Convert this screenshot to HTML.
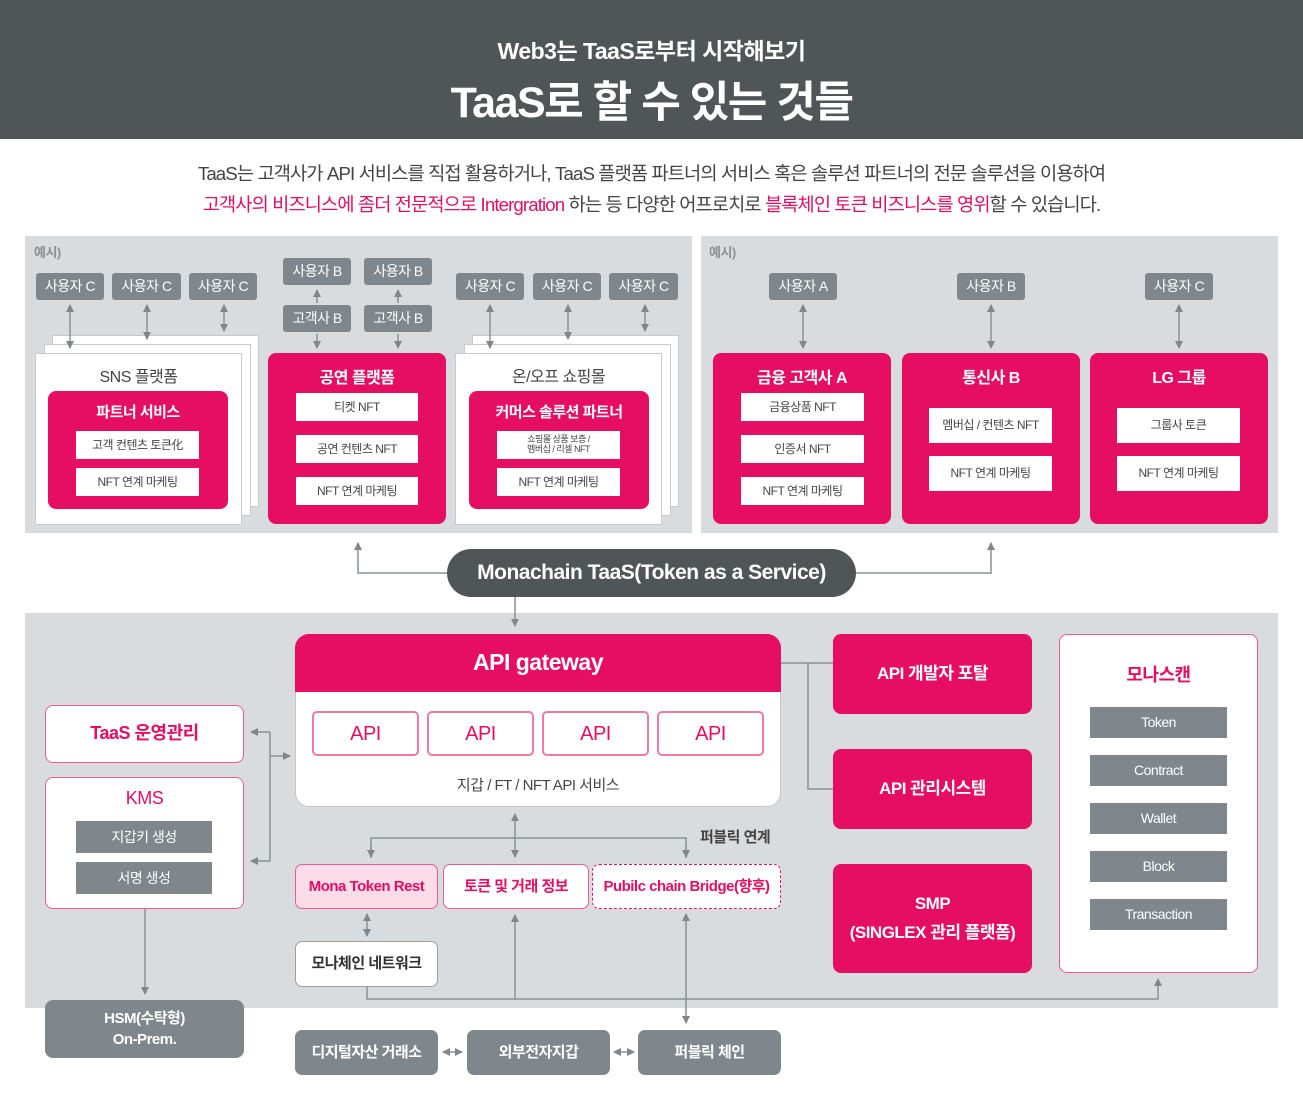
<!DOCTYPE html>
<html><head><meta charset="utf-8">
<style>
body{margin:0;width:1303px;height:1101px;position:relative;background:#fff;font-family:"Liberation Sans","Noto Sans CJK KR",sans-serif;overflow:hidden;letter-spacing:-0.5px}
.b{position:absolute;display:flex;align-items:center;justify-content:center;text-align:center;box-sizing:border-box;line-height:1.2}
.g{background:#7f878c;color:#fff;font-size:14px;border-radius:3px}
.pk{background:#e50e63;border-radius:8px}
.w{background:#fff;color:#444;font-size:12px}
.pg{position:absolute;background:#fff;border:1px solid #c8cbce;box-sizing:border-box}
.t{position:absolute;text-align:center;font-weight:bold}
.panel{position:absolute;background:#d9dcdf}
</style></head><body>
<div style="position:absolute;left:0;top:0;width:1303px;height:139px;background:#505558"></div>
<div class="t" style="left:0;width:1303px;top:32px;font-size:23px;color:#fff">Web3는 TaaS로부터 시작해보기</div>
<div class="t" style="left:0;width:1303px;top:68px;font-size:43px;color:#fff;letter-spacing:-1.5px">TaaS로 할 수 있는 것들</div>
<div style="position:absolute;left:0;width:1303px;top:159px;text-align:center;font-size:18.7px;color:#444;letter-spacing:-0.9px">TaaS는 고객사가 API 서비스를 직접 활용하거나, TaaS 플랫폼 파트너의 서비스 혹은 솔루션 파트너의 전문 솔루션을 이용하여</div>
<div style="position:absolute;left:0;width:1303px;top:190px;text-align:center;font-size:18.7px;color:#444;letter-spacing:-0.9px"><span style="color:#e50e63">고객사의 비즈니스에 좀더 전문적으로 Intergration</span> 하는 등 다양한 어프로치로 <span style="color:#e50e63">블록체인 토큰 비즈니스를 영위</span>할 수 있습니다.</div>

<div class="panel" style="left:25px;top:236px;width:667px;height:297px"></div>
<div class="panel" style="left:701px;top:236px;width:577px;height:297px"></div>
<div class="panel" style="left:25px;top:613px;width:1253px;height:395px"></div>
<div class="t" style="left:34px;top:242px;font-size:13px;color:#8a8f93">예시)</div>
<div class="t" style="left:709px;top:242px;font-size:13px;color:#8a8f93">예시)</div>

<div class="pg" style="left:52px;top:335px;width:207px;height:172px"></div>
<div class="pg" style="left:44px;top:344px;width:207px;height:172px"></div>
<div class="pg" style="left:35px;top:353px;width:207px;height:172px"></div>
<div class="pg" style="left:472px;top:335px;width:207px;height:172px"></div>
<div class="pg" style="left:464px;top:344px;width:207px;height:172px"></div>
<div class="pg" style="left:455px;top:353px;width:207px;height:172px"></div>

<svg style="position:absolute;left:0;top:0" width="1303" height="1101">
<defs><marker id="a" markerWidth="8" markerHeight="8" refX="7" refY="4" orient="auto-start-reverse" markerUnits="userSpaceOnUse"><path d="M0,0 L8,4 L0,8 Z" fill="#80878c"/></marker></defs>
<g stroke="#8a9094" stroke-width="1.5" fill="none">
<path d="M70,305 V348" marker-start="url(#a)" marker-end="url(#a)"/>
<path d="M147,305 V339" marker-start="url(#a)" marker-end="url(#a)"/>
<path d="M224,305 V331" marker-start="url(#a)" marker-end="url(#a)"/>
<path d="M317,290 V303" marker-start="url(#a)"/>
<path d="M398,290 V303" marker-start="url(#a)"/>
<path d="M317,334 V348" marker-end="url(#a)"/>
<path d="M398,334 V348" marker-end="url(#a)"/>
<path d="M490,305 V348" marker-start="url(#a)" marker-end="url(#a)"/>
<path d="M568,305 V339" marker-start="url(#a)" marker-end="url(#a)"/>
<path d="M645,305 V331" marker-start="url(#a)" marker-end="url(#a)"/>
<path d="M803,305 V348" marker-start="url(#a)" marker-end="url(#a)"/>
<path d="M991,305 V348" marker-start="url(#a)" marker-end="url(#a)"/>
<path d="M1179,305 V348" marker-start="url(#a)" marker-end="url(#a)"/>
<path d="M450,573 H358 V543" marker-end="url(#a)"/>
<path d="M850,573 H991 V543" marker-end="url(#a)"/>
<path d="M515,597 V626" marker-end="url(#a)"/>
<path d="M781,663 H833 M808,663 V789 H833"/>
<path d="M270,732 V861" />
<path d="M270,732 H251" marker-end="url(#a)"/>
<path d="M270,861 H251" marker-end="url(#a)"/>
<path d="M270,756 H290" marker-end="url(#a)"/>
<path d="M145,909 V994" marker-end="url(#a)"/>
<path d="M515,814 V857" marker-start="url(#a)" marker-end="url(#a)"/>
<path d="M371,858 V838 H686 V858" />
<path d="M371,845 V857" marker-end="url(#a)"/>
<path d="M686,845 V857" marker-end="url(#a)"/>
<path d="M367,914 V936" marker-start="url(#a)" marker-end="url(#a)"/>
<path d="M367,987 V999 H1158 V979" marker-end="url(#a)"/>
<path d="M515,999 V915" marker-end="url(#a)"/>
<path d="M686,914 V1023" marker-start="url(#a)" marker-end="url(#a)"/>
<path d="M443,1052 H462" marker-start="url(#a)" marker-end="url(#a)"/>
<path d="M614,1052 H634" marker-start="url(#a)" marker-end="url(#a)"/>
</g></svg>

<div class="b g" style="left:36px;top:273px;width:68px;height:27px">사용자 C</div>
<div class="b g" style="left:112px;top:273px;width:69px;height:27px">사용자 C</div>
<div class="b g" style="left:189px;top:273px;width:68px;height:27px">사용자 C</div>
<div class="b g" style="left:283px;top:258px;width:68px;height:27px">사용자 B</div>
<div class="b g" style="left:364px;top:258px;width:68px;height:27px">사용자 B</div>
<div class="b g" style="left:283px;top:305px;width:68px;height:27px">고객사 B</div>
<div class="b g" style="left:364px;top:305px;width:68px;height:27px">고객사 B</div>
<div class="b g" style="left:456px;top:273px;width:68px;height:27px">사용자 C</div>
<div class="b g" style="left:533px;top:273px;width:68px;height:27px">사용자 C</div>
<div class="b g" style="left:609px;top:273px;width:69px;height:27px">사용자 C</div>

<div class="t" style="left:35px;width:207px;top:363px;font-size:16px;color:#444;font-weight:normal">SNS 플랫폼</div>
<div class="pk" style="position:absolute;left:48px;top:391px;width:180px;height:118px"></div>
<div class="t" style="left:48px;width:180px;top:401px;font-size:15px;color:#fff">파트너 서비스</div>
<div class="b w" style="left:76px;top:431px;width:123px;height:28px">고객 컨텐츠 토큰化</div>
<div class="b w" style="left:76px;top:468px;width:123px;height:28px">NFT 연계 마케팅</div>

<div class="pk" style="position:absolute;left:268px;top:353px;width:178px;height:171px"></div>
<div class="t" style="left:268px;width:178px;top:364px;font-size:16px;color:#fff">공연 플랫폼</div>
<div class="b w" style="left:296px;top:393px;width:122px;height:28px">티켓 NFT</div>
<div class="b w" style="left:296px;top:435px;width:122px;height:28px">공연 컨텐츠 NFT</div>
<div class="b w" style="left:296px;top:477px;width:122px;height:28px">NFT 연계 마케팅</div>

<div class="t" style="left:455px;width:207px;top:363px;font-size:16px;color:#444;font-weight:normal">온/오프 쇼핑몰</div>
<div class="pk" style="position:absolute;left:469px;top:391px;width:180px;height:118px"></div>
<div class="t" style="left:469px;width:180px;top:401px;font-size:15px;color:#fff">커머스 솔루션 파트너</div>
<div class="b w" style="left:497px;top:431px;width:123px;height:28px;font-size:9px;line-height:1.1">쇼핑몰 상품 보증 /<br>멤버십 / 리셀 NFT</div>
<div class="b w" style="left:497px;top:468px;width:123px;height:28px">NFT 연계 마케팅</div>

<div class="b g" style="left:769px;top:273px;width:68px;height:27px">사용자 A</div>
<div class="b g" style="left:957px;top:273px;width:68px;height:27px">사용자 B</div>
<div class="b g" style="left:1145px;top:273px;width:68px;height:27px">사용자 C</div>
<div class="pk" style="position:absolute;left:713px;top:353px;width:178px;height:171px"></div>
<div class="pk" style="position:absolute;left:902px;top:353px;width:178px;height:171px"></div>
<div class="pk" style="position:absolute;left:1090px;top:353px;width:178px;height:171px"></div>
<div class="t" style="left:713px;width:178px;top:364px;font-size:16px;color:#fff">금융 고객사 A</div>
<div class="t" style="left:902px;width:178px;top:364px;font-size:16px;color:#fff">통신사 B</div>
<div class="t" style="left:1090px;width:178px;top:364px;font-size:16px;color:#fff">LG 그룹</div>
<div class="b w" style="left:741px;top:393px;width:123px;height:28px">금융상품 NFT</div>
<div class="b w" style="left:741px;top:435px;width:123px;height:28px">인증서 NFT</div>
<div class="b w" style="left:741px;top:477px;width:123px;height:28px">NFT 연계 마케팅</div>
<div class="b w" style="left:929px;top:408px;width:123px;height:35px">멤버십 / 컨텐츠 NFT</div>
<div class="b w" style="left:929px;top:456px;width:123px;height:35px">NFT 연계 마케팅</div>
<div class="b w" style="left:1117px;top:408px;width:123px;height:35px">그룹사 토큰</div>
<div class="b w" style="left:1117px;top:456px;width:123px;height:35px">NFT 연계 마케팅</div>

<div class="b" style="left:447px;top:549px;width:409px;height:48px;border-radius:24px;background:#505558;color:#fff;font-size:21px;font-weight:bold">Monachain TaaS(Token as a Service)</div>

<div style="position:absolute;left:295px;top:634px;width:486px;height:173px;background:#fff;border:1px solid #c4c7ca;border-radius:14px;box-sizing:border-box"></div>
<div class="b" style="left:295px;top:634px;width:486px;height:58px;background:#e50e63;border-radius:14px 14px 0 0;color:#fff;font-size:23px;font-weight:bold">API gateway</div>
<div class="b" style="left:312px;top:711px;width:107px;height:45px;border:2px solid #f07aa5;border-radius:5px;color:#e50e63;font-size:20px">API</div>
<div class="b" style="left:427px;top:711px;width:107px;height:45px;border:2px solid #f07aa5;border-radius:5px;color:#e50e63;font-size:20px">API</div>
<div class="b" style="left:542px;top:711px;width:107px;height:45px;border:2px solid #f07aa5;border-radius:5px;color:#e50e63;font-size:20px">API</div>
<div class="b" style="left:657px;top:711px;width:107px;height:45px;border:2px solid #f07aa5;border-radius:5px;color:#e50e63;font-size:20px">API</div>
<div class="t" style="left:295px;width:486px;top:774px;font-size:15px;color:#444;font-weight:normal">지갑 / FT / NFT API 서비스</div>

<div class="b pk" style="left:833px;top:634px;width:199px;height:80px;color:#fff;font-size:17px;font-weight:bold">API 개발자 포탈</div>
<div class="b pk" style="left:833px;top:749px;width:199px;height:80px;color:#fff;font-size:17px;font-weight:bold">API 관리시스템</div>
<div class="b pk" style="left:833px;top:864px;width:199px;height:109px;color:#fff;font-size:17px;font-weight:bold;line-height:1.7">SMP<br>(SINGLEX 관리 플랫폼)</div>

<div style="position:absolute;left:1059px;top:634px;width:199px;height:339px;background:#fff;border:1.5px solid #ec5b93;border-radius:8px;box-sizing:border-box"></div>
<div class="t" style="left:1059px;width:199px;top:661px;font-size:18px;color:#e50e63">모나스캔</div>
<div class="b g" style="left:1090px;top:707px;width:137px;height:31px;border-radius:0">Token</div>
<div class="b g" style="left:1090px;top:755px;width:137px;height:31px;border-radius:0">Contract</div>
<div class="b g" style="left:1090px;top:803px;width:137px;height:31px;border-radius:0">Wallet</div>
<div class="b g" style="left:1090px;top:851px;width:137px;height:31px;border-radius:0">Block</div>
<div class="b g" style="left:1090px;top:899px;width:137px;height:31px;border-radius:0">Transaction</div>

<div class="b" style="left:45px;top:705px;width:199px;height:58px;background:#fff;border:1.5px solid #ec5b93;border-radius:8px;color:#e50e63;font-size:18px;font-weight:bold">TaaS 운영관리</div>
<div style="position:absolute;left:45px;top:777px;width:199px;height:132px;background:#fff;border:1.5px solid #ec5b93;border-radius:8px;box-sizing:border-box"></div>
<div class="t" style="left:45px;width:199px;top:788px;font-size:18px;color:#e50e63;font-weight:normal">KMS</div>
<div class="b g" style="left:76px;top:821px;width:136px;height:32px;border-radius:0">지갑키 생성</div>
<div class="b g" style="left:76px;top:862px;width:136px;height:32px;border-radius:0">서명 생성</div>
<div class="b g" style="left:45px;top:1000px;width:199px;height:58px;border-radius:8px;font-size:15px;font-weight:bold;line-height:1.4">HSM(수탁형)<br>On-Prem.</div>

<div class="t" style="left:700px;top:826px;font-size:15px;color:#444">퍼블릭 연계</div>
<div class="b" style="left:295px;top:864px;width:143px;height:45px;background:#fbdce8;border:1.5px solid #ec5b93;border-radius:7px;color:#e50e63;font-size:15px;font-weight:bold">Mona Token Rest</div>
<div class="b" style="left:443px;top:864px;width:146px;height:45px;background:#fff;border:1.5px solid #ec5b93;border-radius:7px;color:#e50e63;font-size:15px;font-weight:bold">토큰 및 거래 정보</div>
<div class="b" style="left:592px;top:864px;width:189px;height:45px;background:#fff;border:1.5px dashed #e50e63;border-radius:7px;color:#e50e63;font-size:15px;font-weight:bold">Pubilc chain Bridge(향후)</div>
<div class="b" style="left:295px;top:941px;width:143px;height:46px;background:#fff;border:1px solid #9a9fa3;border-radius:7px;color:#333;font-size:15px;font-weight:bold">모나체인 네트워크</div>

<div class="b g" style="left:295px;top:1030px;width:143px;height:45px;border-radius:7px;font-size:15px;font-weight:bold">디지털자산 거래소</div>
<div class="b g" style="left:467px;top:1030px;width:143px;height:45px;border-radius:7px;font-size:15px;font-weight:bold">외부전자지갑</div>
<div class="b g" style="left:638px;top:1030px;width:143px;height:45px;border-radius:7px;font-size:15px;font-weight:bold">퍼블릭 체인</div>
</body></html>
